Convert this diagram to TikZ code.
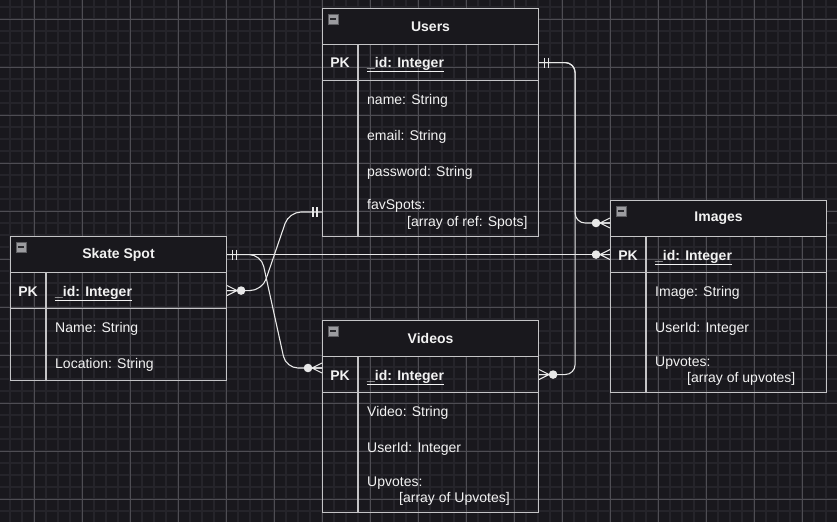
\documentclass[tikz,border=0pt]{standalone}
\usepackage{fontspec}
\setmainfont{Liberation Sans}
\definecolor{bgc}{HTML}{19181D}
\definecolor{minorc}{HTML}{25242A}
\definecolor{majorc}{HTML}{4E4D53}
\definecolor{bordc}{HTML}{C4C4C6}
\definecolor{txtc}{HTML}{F2F2F2}
\definecolor{connc}{HTML}{E8E8E8}
\definecolor{iconc}{HTML}{9C9CA0}
\definecolor{icond}{HTML}{5E5E62}
\definecolor{iconm}{HTML}{2A2A2E}
\begin{document}
\begin{tikzpicture}[x=1pt,y=-1pt,
  hdr/.style={draw=bordc, fill=bgc, line width=1.1pt, minimum width=216pt, minimum height=36pt,
    inner sep=0pt, anchor=north west, text=txtc, font=\fontsize{14}{16}\selectfont\bfseries},
  pkrow/.style={draw=bordc, line width=1.1pt, minimum width=216pt, minimum height=36pt,
    inner sep=0pt, anchor=north west},
  bodybox/.style={draw=bordc, line width=1.1pt, minimum width=216pt, inner sep=0pt, anchor=north west},
  divline/.style={draw=bordc, line width=1.1pt},
  fld/.style={anchor=base west, inner sep=0pt, text=txtc, font=\fontsize{14}{16}\selectfont},
  pklbl/.style={anchor=base, inner sep=0pt, text=txtc, font=\fontsize{14}{16}\selectfont\bfseries},
  minusicon/.style={rectangle, minimum size=10pt, inner sep=0pt, fill=iconc, draw=icond, line width=0.6pt,
    path picture={\draw[iconm, line width=1.6pt] ([xshift=2pt]path picture bounding box.west) -- ([xshift=-2pt]path picture bounding box.east);}},
  conn/.style={draw=connc, line width=1.1pt},
  mone/.pic={\draw[conn] (5,-5) -- (5,5) (9,-5) -- (9,5);},
  zmany/.pic={\draw[conn] (0,-5) -- (10,0) -- (0,5) (0,0) -- (10,0);
               \fill[connc] (14,0) circle[radius=4.3pt];}
]
\useasboundingbox (0,0) rectangle (837,522);
\fill[bgc] (0,0) rectangle (837,522);
% grid
\foreach \x in {10,22,...,837} \draw[minorc, line width=1.3pt] (\x,0) -- (\x,522);
\foreach \y in {7,19,...,522} \draw[minorc, line width=1.3pt] (0,\y) -- (837,\y);
\foreach \x in {34,82,...,837} \draw[majorc, line width=0.8pt] (\x,0) -- (\x,522);
\foreach \y in {19,67,...,522} \draw[majorc, line width=0.8pt] (0,\y) -- (837,\y);

% ---------- Users ----------
\node[hdr] (usersHdr) at (322,8) {Users};
\node[pkrow] (usersPK) at (322,44) {};
\node[bodybox, minimum height=156pt] (usersBody) at (322,80) {};
\draw[divline] ([xshift=36pt]usersPK.north west) -- ([xshift=36pt]usersBody.south west);
\node[minusicon] (usersMin) at (333,19) {};
\node[pklbl] (usersPKl) at (340,67) {PK};
\node[fld] (usersId) at (367,67) {\bfseries\underline{\_id: Integer}};
\node[fld] (usersF1) at (367,104) {name: String};
\node[fld] (usersF2) at (367,140) {email: String};
\node[fld] (usersF3) at (367,176) {password: String};
\node[fld] (usersF4) at (367,209) {favSpots:};
\node[fld] (usersF5) at (407,226) {[array of ref: Spots]};

% ---------- Skate Spot ----------
\node[hdr] (skHdr) at (10,236) {Skate Spot};
\node[pkrow] (skPK) at (10,272) {};
\node[bodybox, minimum height=72pt] (skBody) at (10,308) {};
\draw[divline] ([xshift=36pt]skPK.north west) -- ([xshift=36pt]skBody.south west);
\node[minusicon] (skMin) at (21,247) {};
\node[pklbl] (skPKl) at (28,296) {PK};
\node[fld] (skId) at (55,296) {\bfseries\underline{\_id: Integer}};
\node[fld] (skF1) at (55,332) {Name: String};
\node[fld] (skF2) at (55,368) {Location: String};

% ---------- Images ----------
\node[hdr] (imgHdr) at (610,200) {Images};
\node[pkrow] (imgPK) at (610,236) {};
\node[bodybox, minimum height=120pt] (imgBody) at (610,272) {};
\draw[divline] ([xshift=36pt]imgPK.north west) -- ([xshift=36pt]imgBody.south west);
\node[minusicon] (imgMin) at (621,211) {};
\node[pklbl] (imgPKl) at (628,260) {PK};
\node[fld] (imgId) at (655,260) {\bfseries\underline{\_id: Integer}};
\node[fld] (imgF1) at (655,296) {Image: String};
\node[fld] (imgF2) at (655,332) {UserId: Integer};
\node[fld] (imgF3) at (655,366) {Upvotes:};
\node[fld] (imgF4) at (687,382) {[array of upvotes]};

% ---------- Videos ----------
\node[hdr] (vidHdr) at (322,320) {Videos};
\node[pkrow] (vidPK) at (322,356) {};
\node[bodybox, minimum height=120pt] (vidBody) at (322,392) {};
\draw[divline] ([xshift=36pt]vidPK.north west) -- ([xshift=36pt]vidBody.south west);
\node[minusicon] (vidMin) at (333,331) {};
\node[pklbl] (vidPKl) at (340,380) {PK};
\node[fld] (vidId) at (367,380) {\bfseries\underline{\_id: Integer}};
\node[fld] (vidF1) at (367,416) {Video: String};
\node[fld] (vidF2) at (367,452) {UserId: Integer};
\node[fld] (vidF3) at (367,486) {Upvotes:};
\node[fld] (vidF4) at (399,502) {[array of Upvotes]};

% ---------- connection points ----------
\coordinate (imgIn) at (610,223);
\coordinate (vidIn) at (322,368);
\coordinate (favIn) at (322,212);

% ---------- connectors ----------
\draw[conn, rounded corners=10pt] (usersPK.east) -- ++(36,0) |- (imgIn);
\draw[conn, rounded corners=10pt] (usersPK.east) -- ++(36,0) |- (vidPK.east);
\draw[conn] (skHdr.east) -- (imgPK.west);
\draw[conn, rounded corners=12pt] (skHdr.east) -- ++(34,0) -- ([xshift=-36pt]vidIn) -- (vidIn);
\draw[conn, rounded corners=12pt] (favIn) -- ++(-33,0) -- ([xshift=35pt]skPK.east) -- (skPK.east);

% ---------- end markers ----------
\pic at (usersPK.east) {mone};
\pic[rotate=180] at (imgIn) {zmany};
\pic at (vidPK.east) {zmany};
\pic at (skHdr.east) {mone};
\pic[rotate=180] at (imgPK.west) {zmany};
\pic[rotate=180] at (vidIn) {zmany};
\pic[rotate=180] at (favIn) {mone};
\pic at (skPK.east) {zmany};
\end{tikzpicture}
\end{document}
